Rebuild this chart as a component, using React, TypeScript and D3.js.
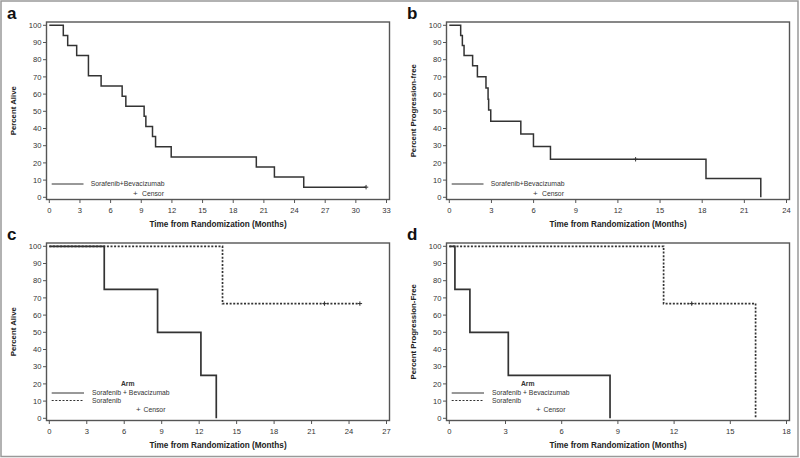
import React from "react";
import * as d3 from "d3";

// ---------- DATA ----------
// Panel a: overall survival, Sorafenib+Bevacizumab
const aTimes = [0, 1.37, 1.8, 2.68, 3.83, 5.07, 7.13, 7.49, 9.28, 9.45, 10.1, 10.4, 11.93, 20.26, 22.03, 24.9, 31.0];
const aSurv = [100, 94.1, 88.2, 82.4, 70.6, 64.7, 58.8, 52.9, 47.1, 41.2, 35.3, 29.4, 23.5, 17.6, 11.8, 5.9, 5.9];
const aCensorT = [31.0];
const aCensorS = [5.9];

// Panel b: progression-free survival, Sorafenib+Bevacizumab
const bTimes = [0, 0.81, 0.93, 1.05, 1.66, 2.0, 2.61, 2.76, 2.8, 2.95, 5.09, 5.99, 7.2, 18.27, 22.17];
const bSurv = [100, 94.1, 88.2, 82.4, 76.5, 70.1, 63.5, 57.0, 50.8, 44.2, 36.8, 29.5, 22.1, 11.0, 0];
const bCensorT = [13.26];
const bCensorS = [22.1];

// Panel c: overall survival by arm
const cSBTimes = [0, 4.4, 8.67, 12.14, 13.37];
const cSBSurv = [100, 75, 50, 25, 0];
const cSTimes = [0, 13.87, 24.87];
const cSSurv = [100, 66.7, 66.7];
const cCensorT = [22.04, 24.87];
const cCensorS = [66.7, 66.7];

// Panel d: progression-free survival by arm
const dSBTimes = [0, 0.3, 1.1, 3.15, 8.58];
const dSBSurv = [100, 75, 50, 25, 0];
const dSTimes = [0, 11.44, 16.35];
const dSSurv = [100, 66.7, 0];
const dCensorT = [12.94];
const dCensorS = [66.7];

const yTicks = [0, 10, 20, 30, 40, 50, 60, 70, 80, 90, 100];
const aXTicks = [0, 3, 6, 9, 12, 15, 18, 21, 24, 27, 30, 33];
const bXTicks = [0, 3, 6, 9, 12, 15, 18, 21, 24];
const cXTicks = [0, 3, 6, 9, 12, 15, 18, 21, 24, 27];
const dXTicks = [0, 3, 6, 9, 12, 15, 18];

const xLabel = "Time from Randomization (Months)";
const armLabels = ["Sorafenib + Bevacizumab", "Sorafenib"];

const FONT = "'Liberation Sans', Arial, sans-serif";
const LINE = "#333";
const FRAME = "#555";
const TXT = "#333";

type Series = { t: number[]; s: number[]; dashed?: boolean };

type PanelProps = {
  letter: string;
  ox: number;
  oy: number;
  xMax: number;
  xTicks: number[];
  yLabel: string;
  series: Series[];
  censorT: number[];
  censorS: number[];
  twoArms: boolean;
};

function Panel(p: PanelProps) {
  const { ox, oy } = p;
  const box = { x0: ox + 46.5, x1: ox + 389.5, y0: oy + 22, y1: oy + 199.5 };
  const x = d3.scaleLinear().domain([0, p.xMax]).range([ox + 49.3, ox + 386.5]);
  const y = d3.scaleLinear().domain([0, 100]).range([oy + 197.3, oy + 25.3]);
  const line = d3
    .line<[number, number]>()
    .x((d) => x(d[0]))
    .y((d) => y(d[1]))
    .curve(d3.curveStepAfter);

  const cx = (box.x0 + box.x1) / 2;
  const cy = (box.y0 + box.y1) / 2;
  const sw = p.twoArms ? 1.7 : 1.5;

  return (
    <g fontFamily={FONT}>
      <text x={ox + 7} y={oy + 19} fontSize={17} fontWeight="bold" fill="#111">
        {p.letter}
      </text>
      {/* curves */}
      {p.series.map((se, i) => (
        <path
          key={i}
          d={line(se.t.map((t, j) => [t, se.s[j]] as [number, number])) || ""}
          fill="none"
          stroke={LINE}
          strokeWidth={sw}
          strokeDasharray={se.dashed ? "2,1.6" : undefined}
        />
      ))}
      {/* censors */}
      {p.censorT.map((t, i) => (
        <g key={i} stroke={LINE} strokeWidth={1}>
          <line x1={x(t) - 2.2} x2={x(t) + 2.2} y1={y(p.censorS[i])} y2={y(p.censorS[i])} />
          <line x1={x(t)} x2={x(t)} y1={y(p.censorS[i]) - 2.2} y2={y(p.censorS[i]) + 2.2} />
        </g>
      ))}
      {/* frame */}
      <rect
        x={box.x0}
        y={box.y0}
        width={box.x1 - box.x0}
        height={box.y1 - box.y0}
        fill="none"
        stroke={FRAME}
        strokeWidth={1.4}
      />
      {/* y axis */}
      {yTicks.map((v) => (
        <g key={v}>
          <line x1={box.x0 - 3.5} x2={box.x0} y1={y(v)} y2={y(v)} stroke={FRAME} strokeWidth={1} />
          <text x={box.x0 - 5} y={y(v) + 2.6} fontSize={7.6} textAnchor="end" fill={TXT}>
            {v}
          </text>
        </g>
      ))}
      {/* x axis */}
      {p.xTicks.map((v) => (
        <g key={v}>
          <line x1={x(v)} x2={x(v)} y1={box.y1} y2={box.y1 + 3.5} stroke={FRAME} strokeWidth={1} />
          <text x={x(v)} y={box.y1 + 13} fontSize={7.6} textAnchor="middle" fill={TXT}>
            {v}
          </text>
        </g>
      ))}
      <text x={cx} y={oy + 227} fontSize={8.2} fontWeight="bold" textAnchor="middle" fill="#222">
        {xLabel}
      </text>
      <text
        transform={`translate(${ox + 15.5},${cy}) rotate(-90)`}
        fontSize={7.8}
        fontWeight="bold"
        textAnchor="middle"
        fill="#222"
      >
        {p.yLabel}
      </text>
      {/* legend */}
      {p.twoArms ? (
        <g fontSize={6.8} fill={TXT}>
          <text x={ox + 127.7} y={oy + 165} fontWeight="bold" textAnchor="middle">
            Arm
          </text>
          <line x1={ox + 51.7} x2={ox + 84} y1={oy + 172} y2={oy + 172} stroke={LINE} strokeWidth={1} />
          <text x={ox + 92} y={oy + 174.3}>{armLabels[0]}</text>
          <line
            x1={ox + 51.7}
            x2={ox + 84}
            y1={oy + 179.5}
            y2={oy + 179.5}
            stroke={LINE}
            strokeWidth={1}
            strokeDasharray="2,1.6"
          />
          <text x={ox + 92} y={oy + 181.8}>{armLabels[1]}</text>
          <text x={ox + 136} y={oy + 190.5} fontSize={8}>+</text>
          <text x={ox + 143.5} y={oy + 190.5}>Censor</text>
        </g>
      ) : (
        <g fontSize={6.8} fill={TXT}>
          <line x1={ox + 51.7} x2={ox + 83.5} y1={oy + 184} y2={oy + 184} stroke={LINE} strokeWidth={1} />
          <text x={ox + 90.7} y={oy + 186.3}>Sorafenib+Bevacizumab</text>
          <text x={ox + 133} y={oy + 195.5} fontSize={8}>+</text>
          <text x={ox + 142} y={oy + 195.5}>Censor</text>
        </g>
      )}
    </g>
  );
}

export default function App() {
  return (
    <svg
      width={800}
      height={458}
      style={{ position: "absolute", left: 0, top: 0, background: "#fff" }}
    >
      <rect x={1} y={1} width={797} height={455.5} fill="#fff" stroke="#999" strokeWidth={1.5} />
      <Panel
        letter="a"
        ox={0}
        oy={0}
        xMax={33}
        xTicks={aXTicks}
        yLabel="Percent Alive"
        series={[{ t: aTimes, s: aSurv }]}
        censorT={aCensorT}
        censorS={aCensorS}
        twoArms={false}
      />
      <Panel
        letter="b"
        ox={400}
        oy={0}
        xMax={24}
        xTicks={bXTicks}
        yLabel="Percent Progression-free"
        series={[{ t: bTimes, s: bSurv }]}
        censorT={bCensorT}
        censorS={bCensorS}
        twoArms={false}
      />
      <Panel
        letter="c"
        ox={0}
        oy={221}
        xMax={27}
        xTicks={cXTicks}
        yLabel="Percent Alive"
        series={[
          { t: cSBTimes, s: cSBSurv },
          { t: cSTimes, s: cSSurv, dashed: true },
        ]}
        censorT={cCensorT}
        censorS={cCensorS}
        twoArms={true}
      />
      <Panel
        letter="d"
        ox={400}
        oy={221}
        xMax={18}
        xTicks={dXTicks}
        yLabel="Percent Progression-Free"
        series={[
          { t: dSBTimes, s: dSBSurv },
          { t: dSTimes, s: dSSurv, dashed: true },
        ]}
        censorT={dCensorT}
        censorS={dCensorS}
        twoArms={true}
      />
    </svg>
  );
}
